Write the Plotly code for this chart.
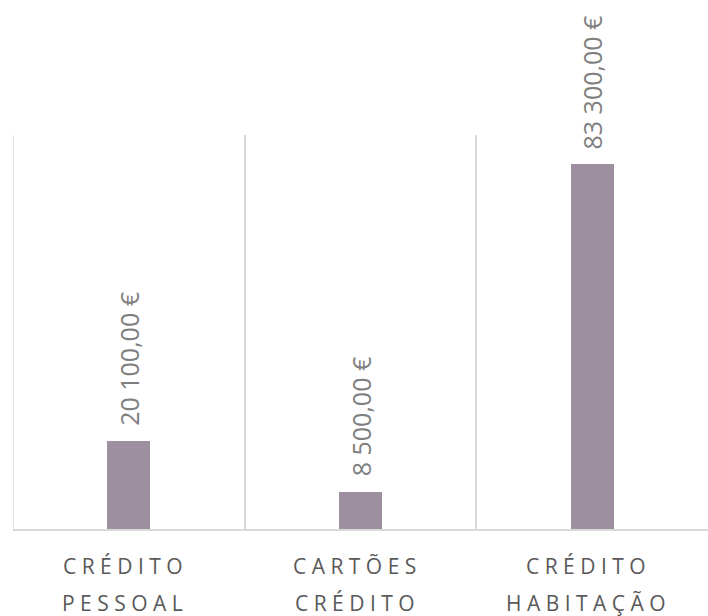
import plotly.graph_objects as go

categories = ["Crédito Pessoal", "Cartões Crédito", "Crédito Habitação"]
values = [20100, 8500, 83300]
y_max = 90000

BAR_COLOR = "#9d8f9f"
GRID_COLOR = "#d9d9d9"
LABEL_COLOR = "#595959"
VALUE_COLOR = "#7f7f7f"
FONT = "Open Sans"


def euro(v):
    whole = f"{v:,.2f}"  # e.g. 20,100.00
    whole = whole.replace(",", " ").replace(".", ",")
    return f"{whole} €"


def spaced(word):
    # uppercase, letter-spaced word
    return " ".join(word.upper())


fig = go.Figure()
fig.add_trace(go.Bar(
    x=categories,
    y=values,
    width=0.185,
    marker=dict(color=BAR_COLOR, line=dict(width=0)),
    hoverinfo="skip",
))

# value labels, rotated above each bar
for c, v in zip(categories, values):
    fig.add_annotation(
        x=c, y=v, xref="x", yref="y",
        text=euro(v),
        textangle=-90,
        showarrow=False,
        xanchor="center", yanchor="bottom",
        yshift=13,
        font=dict(family=FONT, size=25, color=VALUE_COLOR),
    )

# two-line category labels under the axis, one word per line
line_shifts = [-37, -74]
for c in categories:
    for word, shift in zip(c.split(), line_shifts):
        fig.add_annotation(
            x=c, y=0, xref="x", yref="paper",
            text=spaced(word),
            showarrow=False,
            xanchor="center", yanchor="middle",
            xshift=-6, yshift=shift,
            font=dict(family=FONT, size=21, color=LABEL_COLOR),
        )

# left edge gridline (the inner ones come from the category boundaries)
fig.add_shape(
    type="line", xref="x", yref="paper",
    x0=-0.5, x1=-0.5, y0=0, y1=1,
    line=dict(color=GRID_COLOR, width=1.5),
)

fig.update_layout(
    width=708, height=616,
    margin=dict(l=13, r=0, t=135, b=87),
    paper_bgcolor="white",
    plot_bgcolor="white",
    showlegend=False,
    bargap=0,
)
fig.update_xaxes(
    type="category",
    range=[-0.5, 2.5],
    tickson="boundaries",
    showgrid=True,
    gridcolor=GRID_COLOR,
    gridwidth=1.5,
    showline=True,
    linecolor=GRID_COLOR,
    linewidth=2,
    ticks="",
    showticklabels=False,
    fixedrange=True,
)
fig.update_yaxes(
    range=[0, y_max],
    visible=False,
    showgrid=False,
    zeroline=False,
    fixedrange=True,
)

fig.write_html("out.html", config={"displayModeBar": False})
